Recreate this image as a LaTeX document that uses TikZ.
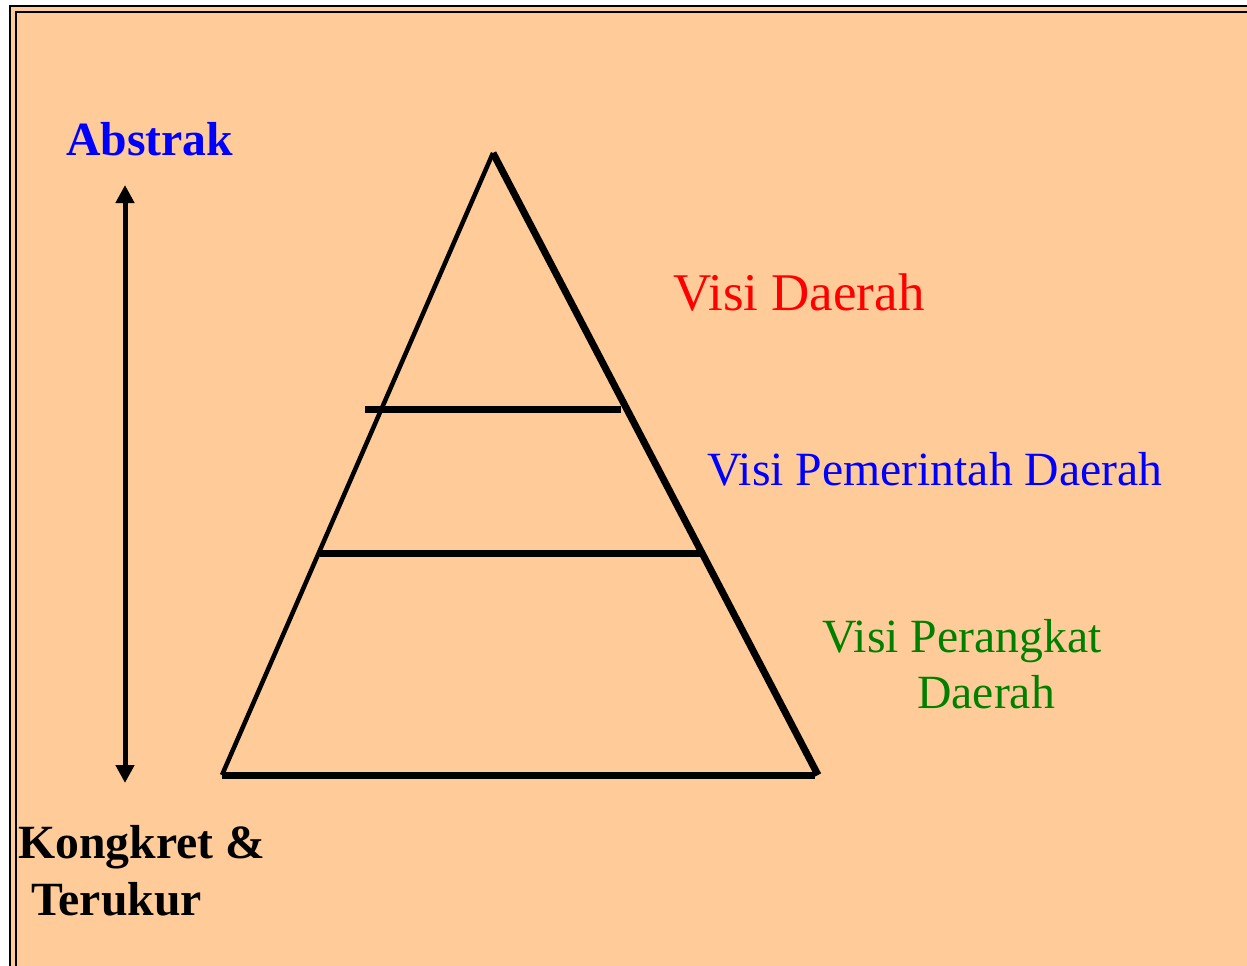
\documentclass[tikz,border=0pt]{standalone}
\usepackage{fontspec}
\setmainfont{Liberation Serif}
\usetikzlibrary{arrows.meta,calc,positioning}

\definecolor{peach}{HTML}{FFCC99}
\definecolor{visigreen}{HTML}{008000}

\tikzset{
  label/.style={anchor=base west,inner sep=0pt,font=\fontsize{47.7}{56}\selectfont},
  level/.style={line width=7pt},
}

\begin{document}
\begin{tikzpicture}[x=1pt,y=-1pt]
    \useasboundingbox (0,0) rectangle (1247,966);
    \fill[white] (0,0) rectangle (1247,966);
    % frame
    \fill[peach] (10,6) rectangle (1262,980);
    \draw[line width=2.5pt] (10,6) rectangle (1262,980);
    \draw[line width=1.8pt] (16,12) rectangle (1256,974);

    % arrow
    \coordinate (top) at (125,185);
    \coordinate (bot) at (125,783);
    \draw[line width=5pt, {Triangle[length=18pt,width=18pt]}-{Triangle[length=18pt,width=18pt]}] (top) -- (bot);

    \node(abstrak) at (66,155) [label,text=blue] {\bfseries Abstrak};
    \node(kongkret) at (18,858) [label] {\bfseries Kongkret \&};
    \node(terukur) at (31,915) [label] {\bfseries Terukur};

    % pyramid
    \coordinate (apex) at (493,153);
    \coordinate (bl) at (222,775);
    \coordinate (br) at (818,775);
    \draw[line width=4.5pt] (apex) -- (bl);
    \draw[line width=7pt] (apex) -- (br);
    \draw[line width=7pt] (bl) -- (815,775);

    \coordinate (l1a) at (365,409);
    \coordinate (l1b) at (621,409);
    \coordinate (l2a) at (320,553);
    \coordinate (l2b) at (700,553);
    \draw[level] (l1a) -- (l1b);
    \draw[level] (l2a) -- (l2b);

    \node(visi) at (673,310) [label,text=red,font=\fontsize{53}{60}\selectfont] {Visi Daerah};
    \node(pemda) at (707,485) [label,text=blue] {Visi Pemerintah Daerah};
    \node(perangkat) at (822,652) [label,text=visigreen] {Visi Perangkat};
    \node(daerah) at (917,708) [label,text=visigreen] {Daerah};
\end{tikzpicture}
\end{document}
